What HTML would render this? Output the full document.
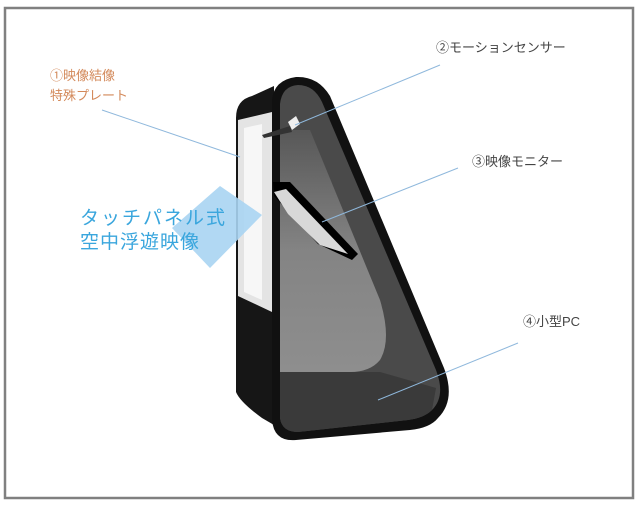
<!DOCTYPE html>
<html><head><meta charset="utf-8"><style>
html,body{margin:0;padding:0;background:#fff;width:640px;height:509px;overflow:hidden}
svg{display:block}
text{font-family:"Liberation Sans","Noto Sans CJK JP",sans-serif}
</style></head><body>
<svg width="640" height="509" viewBox="0 0 640 509">
<defs>
<linearGradient id="g1" x1="0" y1="0" x2="0" y2="1">
<stop offset="0" stop-color="#5a5a5a"/>
<stop offset="0.5" stop-color="#8e8e8e"/>
<stop offset="1" stop-color="#9a9a9a"/>
</linearGradient>
</defs>
<rect x="5" y="8" width="628" height="490" fill="#fff" stroke="#808080" stroke-width="2.5"/>
<path d="M236 118 Q236 100 252 96 L274 86 L274 425 L262 418 Q240 402 236 392 Z" fill="#161616"/>
<path d="M238 120 L272 112 L272 312 L238 296 Z" fill="#e4e4e4"/>
<path d="M244 128 L262 124 L262 300 L244 292 Z" fill="#f7f7f7"/>
<polygon points="220,186 262,215 210,268 172,228" fill="#a9d4f2" opacity="0.9"/>
<path d="M272 100 Q274 80 296 77 Q318 76 330 96 L444 368 Q456 400 438 418 Q430 428 410 430 L296 440 Q274 442 272 420 Z" fill="#111"/>
<path d="M280 104 Q282 86 298 85 Q314 85 322 102 L436 370 Q446 396 432 410 Q424 418 408 420 L298 432 Q282 432 280 418 Z" fill="#4a4a4a"/>
<path d="M280 130 L310 130 L380 300 Q392 340 380 360 Q370 372 350 372 L280 372 Z" fill="url(#g1)" opacity="0.85"/>
<path d="M280 372 L380 372 L436 388 L432 410 Q424 418 408 420 L298 432 Q282 432 280 418 Z" fill="#3a3a3a"/>
<path d="M273 182 L290 182 L358 254 L352 260 L318 244 L274 196 Z" fill="#000"/>
<path d="M274 192 L286 189 L348 254 L320 245 L288 214 Z" fill="#d8d8d8"/>
<path d="M288 122 L296 116 L300 124 L292 130 Z" fill="#eee"/>
<path d="M262 135 L290 126 L292 132 L264 138 Z" fill="#333"/>
<g stroke="#8fb8dc" stroke-width="1" fill="none">
<line x1="102" y1="110" x2="240" y2="157"/>
<line x1="440" y1="65" x2="295" y2="125"/>
<line x1="458" y1="168" x2="322" y2="222"/>
<line x1="518" y1="343" x2="378" y2="400"/>
</g>
<text x="50" y="80" font-size="13" fill="#d3895a">①映像結像</text>
<text x="50" y="100" font-size="13" fill="#d3895a">特殊プレート</text>
<text x="80" y="224" font-size="19" fill="#3aa6dd" letter-spacing="2">タッチパネル式</text>
<text x="80" y="248" font-size="19" fill="#3aa6dd" letter-spacing="1">空中浮遊映像</text>
<text x="436" y="52" font-size="13" fill="#444">②モーションセンサー</text>
<text x="472" y="166" font-size="13" fill="#444">③映像モニター</text>
<text x="523" y="326" font-size="13" fill="#444">④小型PC</text>
</svg>
</body></html>
